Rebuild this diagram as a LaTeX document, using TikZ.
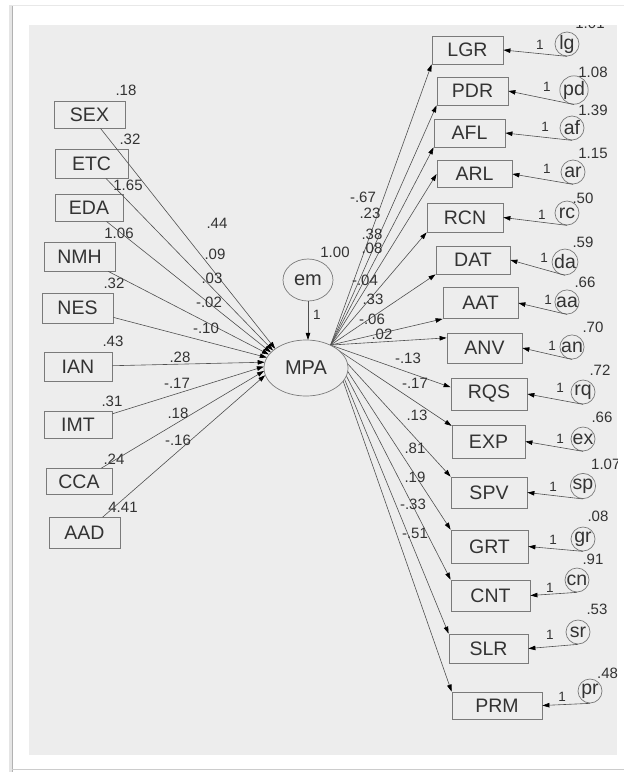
\documentclass[tikz,border=0pt]{standalone}
\usepackage{fontspec}
\setmainfont{Liberation Sans}
\usetikzlibrary{arrows.meta,shapes.geometric}
\definecolor{bgc}{HTML}{EDEDED}
\definecolor{txt}{HTML}{333333}
\definecolor{boxc}{HTML}{7A7A7A}
\definecolor{linec}{HTML}{505050}
\newcommand\boxfont{\fontsize{19.5}{21}\selectfont}
\newcommand\numfont{\fontsize{15}{16}\selectfont}
\newcommand\onefont{\fontsize{13.5}{15}\selectfont}
\tikzset{
  box/.style={draw=boxc, line width=0.8pt, inner sep=0pt, text=txt, font=\boxfont},
  err/.style={circle, draw=boxc, line width=0.7pt, minimum size=24pt, inner sep=0pt, text=txt, font=\boxfont},
  num/.style={inner sep=0pt, text=txt, font=\numfont},
  one/.style={inner sep=0pt, text=txt, font=\onefont},
  pl/.style={draw=linec, line width=0.6pt, -{Triangle[length=7pt,width=4.5pt,color=black]}},
  lat/.style={ellipse, draw=boxc, line width=0.7pt, fill=bgc, inner sep=0pt, text=txt, font=\fontsize{20}{22}\selectfont}
}
\begin{document}
\begin{tikzpicture}[x=1pt,y=-1pt]
\useasboundingbox (0,0) rectangle (624,772);
\fill[white] (0,0) rectangle (624,772);
% frame
\draw[line width=3pt, gray!20] (10.5,5) -- (10.5,772);
\draw[line width=1.4pt, gray!60] (12.5,5) -- (12.5,772);
\draw[line width=0.8pt, gray!18] (12,5) -- (624,5);
\draw[line width=1.6pt, gray!40] (12,769.5) -- (624,769.5);
\fill[bgc] (29,25) rectangle (617,755);
\begin{scope}
\clip (29,25) rectangle (617,755);
% left boxes
\node[box, minimum width=71pt, minimum height=27pt] (SEX) at (89.5,114.5) {SEX};
\node[box, minimum width=73pt, minimum height=29pt] (ETC) at (91.5,163.5) {ETC};
\node[box, minimum width=68pt, minimum height=27pt] (EDA) at (89,207.5) {EDA};
\node[box, minimum width=71pt, minimum height=29pt] (NMH) at (79.5,256.5) {NMH};
\node[box, minimum width=71pt, minimum height=30pt] (NES) at (77.5,308) {NES};
\node[box, minimum width=68pt, minimum height=29pt] (IAN) at (78,366.5) {IAN};
\node[box, minimum width=68pt, minimum height=27pt] (IMT) at (78,424.5) {IMT};
\node[box, minimum width=66pt, minimum height=26pt] (CCA) at (79,481.5) {CCA};
\node[box, minimum width=71pt, minimum height=31pt] (AAD) at (84.5,533) {AAD};
% left variances
\node[num] (vSEX) at (126,90) {.18};
\node[num] (vETC) at (130,139) {.32};
\node[num] (vEDA) at (128,185) {1.65};
\node[num] (vNMH) at (119,233) {1.06};
\node[num] (vNES) at (114,283) {.32};
\node[num] (vIAN) at (113,341) {.43};
\node[num] (vIMT) at (112,401) {.31};
\node[num] (vCCA) at (114,459) {.24};
\node[num] (vAAD) at (123,507) {4.41};
% right boxes
\node[box, minimum width=71pt, minimum height=28pt] (LGR) at (467.5,50) {LGR};
\node[box, minimum width=71pt, minimum height=28pt] (PDR) at (472.5,91) {PDR};
\node[box, minimum width=71pt, minimum height=28pt] (AFL) at (469.5,133) {AFL};
\node[box, minimum width=75pt, minimum height=27pt] (ARL) at (474.5,174) {ARL};
\node[box, minimum width=76pt, minimum height=29pt] (RCN) at (465,217.5) {RCN};
\node[box, minimum width=74pt, minimum height=28pt] (DAT) at (473,260) {DAT};
\node[box, minimum width=75pt, minimum height=31pt] (AAT) at (480.5,303) {AAT};
\node[box, minimum width=75pt, minimum height=30pt] (ANV) at (484.5,348) {ANV};
\node[box, minimum width=76pt, minimum height=32pt] (RQS) at (489,394) {RQS};
\node[box, minimum width=73pt, minimum height=33pt] (EXP) at (488.5,441.5) {EXP};
\node[box, minimum width=76pt, minimum height=31pt] (SPV) at (489,492.5) {SPV};
\node[box, minimum width=77pt, minimum height=33pt] (GRT) at (489.5,546.5) {GRT};
\node[box, minimum width=79pt, minimum height=31pt] (CNT) at (490.5,595.5) {CNT};
\node[box, minimum width=79pt, minimum height=29pt] (SLR) at (488.5,648.5) {SLR};
\node[box, minimum width=90pt, minimum height=27pt] (PRM) at (497,705.5) {PRM};
% error circles
\node[err] (lg) at (567,44) {lg};
\node[err] (pd) at (574,90) {pd};
\node[err] (af) at (572,128) {af};
\node[err] (ar) at (573,172) {ar};
\node[err] (rc) at (567,213) {rc};
\node[err] (da) at (565,262) {da};
\node[err] (aa) at (567,302) {aa};
\node[err] (an) at (572,347) {an};
\node[err] (rq) at (583,392) {rq};
\node[err] (ex) at (583,439) {ex};
\node[err] (sp) at (583,486) {sp};
\node[err] (gr) at (583,539) {gr};
\node[err] (cn) at (577,580) {cn};
\node[err] (sr) at (578,632) {sr};
\node[err] (pr) at (590,691) {pr};
% error variances
\node[num] (vlg) at (590,23) {1.01};
\node[num] (vpd) at (593,72) {1.08};
\node[num] (vaf) at (593,110) {1.39};
\node[num] (var) at (593,153) {1.15};
\node[num] (vrc) at (583,198) {.50};
\node[num] (vda) at (583,242) {.59};
\node[num] (vaa) at (585,282) {.66};
\node[num] (van) at (593,327) {.70};
\node[num] (vrq) at (600,370) {.72};
\node[num] (vex) at (602,417) {.66};
\node[num, anchor=west] (vsp) at (591,464) {1.07};
\node[num] (vgr) at (598,516) {.08};
\node[num] (vcn) at (593,559) {.91};
\node[num] (vsr) at (597,609) {.53};
\node[num, anchor=west] (vpr) at (597,673) {.48};
% latent nodes
\path node[ellipse, minimum width=84pt, minimum height=56pt, inner sep=0pt] (MPA) at (306,368) {};
\node[lat, minimum width=50pt, minimum height=42pt] (em) at (308,280) {em};
% left paths
\draw[pl] (SEX) -- (MPA.148);
\draw[pl] (ETC) -- (MPA.152);
\draw[pl] (EDA) -- (MPA.156);
\draw[pl] (NMH) -- (MPA.160);
\draw[pl] (NES) -- (MPA.165);
\draw[pl] (IAN) -- (MPA.172);
\draw[pl] (IMT) -- (MPA.178);
\draw[pl] (CCA) -- (MPA.184);
\draw[pl] (AAD) -- (MPA.190);
% right paths
\draw[pl] (MPA.43) -- (LGR.south west);
\draw[pl] (MPA.43) -- (PDR.south west);
\draw[pl] (MPA.43) -- (AFL.south west);
\draw[pl] (MPA.43) -- (ARL.west);
\draw[pl] (MPA.43) -- (RCN.south west);
\draw[pl] (MPA.43) -- (DAT.south west);
\draw[pl] (MPA.43) -- (AAT.south west);
\draw[pl] (MPA.43) -- (ANV.165);
\draw[pl] (MPA.43) -- (RQS.170);
\draw[pl] (MPA.43) -- (EXP.157);
\draw[pl] (MPA.43) -- (SPV.north west);
\draw[pl] (MPA.43) -- (GRT.north west);
\draw[pl] (MPA.43) -- (CNT.north west);
\draw[pl] (MPA.43) -- (SLR.north west);
\draw[pl] (MPA.43) -- (PRM.north west);
% error paths
\draw[pl] (lg.south) -- (LGR.east);
\draw[pl] (pd.south) -- (PDR.east);
\draw[pl] (af.south) -- (AFL.east);
\draw[pl] (ar.south) -- (ARL.east);
\draw[pl] (rc.south) -- (RCN.east);
\draw[pl] (da.south) -- (DAT.east);
\draw[pl] (aa.south) -- (AAT.east);
\draw[pl] (an.south) -- (ANV.east);
\draw[pl] (rq.south) -- (RQS.east);
\draw[pl] (ex.south) -- (EXP.east);
\draw[pl] (sp.south) -- (SPV.east);
\draw[pl] (gr.south) -- (GRT.east);
\draw[pl] (cn.south) -- (CNT.east);
\draw[pl] (sr.south) -- (SLR.east);
\draw[pl] (pr.south) -- (PRM.east);
% em path
\draw[pl] (em) -- (em |- MPA.north);
% visible MPA
\node[lat, minimum width=84pt, minimum height=56pt] (MPAv) at (MPA.center) {MPA};
% labels: em
\node[num] (lem) at (335,252) {1.00};
\node[one] (lemone) at (317,315) {1};
% left coefficients
\node[num] at (217,223) {.44};
\node[num] at (215,254) {.09};
\node[num] at (212,278) {.03};
\node[num] at (209,302) {-.02};
\node[num] at (206,328) {-.10};
\node[num] at (180,357) {.28};
\node[num] at (177,383) {-.17};
\node[num] at (178,413) {.18};
\node[num] at (178,440) {-.16};
% right coefficients
\node[num] at (363,197) {-.67};
\node[num] at (370,213) {.23};
\node[num] at (372,234) {.38};
\node[num] at (372,248) {.08};
\node[num] at (365,280) {-.04};
\node[num] at (373,299) {.33};
\node[num] at (372,319) {-.06};
\node[num] at (382,334) {.02};
\node[num] at (408,358) {-.13};
\node[num] at (415,383) {-.17};
\node[num] at (417,415) {.13};
\node[num] at (415,448) {.81};
\node[num] at (415,477) {.19};
\node[num] at (413,504) {-.33};
\node[num] at (415,533) {-.51};
% error "1" labels
\node[one] at (540,45) {1};
\node[one] at (547,87) {1};
\node[one] at (545,127) {1};
\node[one] at (547,169) {1};
\node[one] at (542,215) {1};
\node[one] at (544,258) {1};
\node[one] at (548,300) {1};
\node[one] at (552,346) {1};
\node[one] at (560,388) {1};
\node[one] at (560,439) {1};
\node[one] at (553,487) {1};
\node[one] at (553,540) {1};
\node[one] at (550,588) {1};
\node[one] at (550,635) {1};
\node[one] at (562,697) {1};
\end{scope}
\end{tikzpicture}
\end{document}
